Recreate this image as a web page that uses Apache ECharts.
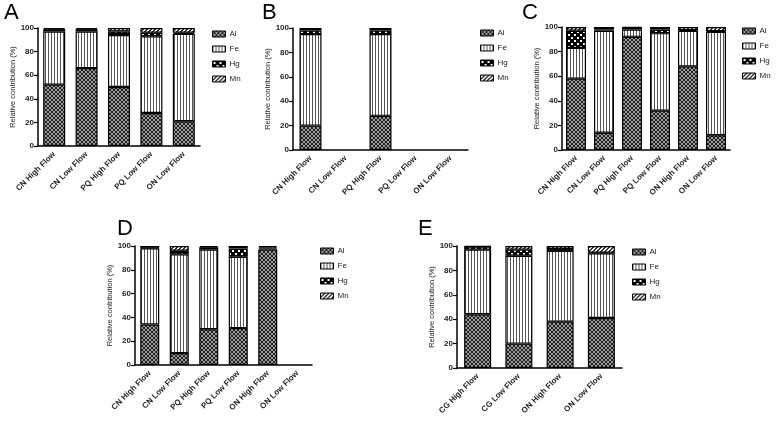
<!DOCTYPE html>
<html>
<head>
	<meta charset="utf-8">
	<title>Relative contribution</title>
	<script src="https://cdn.jsdelivr.net/npm/echarts@6/dist/echarts.min.js"></script>
	<style>
		html, body { margin: 0; padding: 0; background: #fff; }
		#chart { width: 776px; height: 425px; }
	</style>
</head>
<body>
<div id="chart"></div>
<script>
	var metals = ['Al', 'Fe', 'Hg', 'Mn'];

	// panel A
	var catA = ['CN High Flow', 'CN Low Flow', 'PQ High Flow', 'PQ Low Flow', 'ON Low Flow'];
	var alA = [52, 66, 50, 28, 21];
	var feA = [45, 31, 44, 65, 74];
	var hgA = [2, 2, 3, 3, 1];
	var mnA = [1, 1, 3, 4, 4];

	// panel B
	var catB = ['CN High Flow', 'CN Low Flow', 'PQ High Flow', 'PQ Low Flow', 'ON Low Flow'];
	var alB = [20, 0, 28, 0, 0];
	var feB = [75, 0, 67, 0, 0];
	var hgB = [3, 0, 3, 0, 0];
	var mnB = [2, 0, 2, 0, 0];

	// panel C
	var catC = ['CN High Flow', 'CN Low Flow', 'PQ High Flow', 'PQ Low Flow', 'ON High Flow', 'ON Low Flow'];
	var alC = [58, 14, 92, 32, 68, 12];
	var feC = [25, 83, 6, 63, 29, 84];
	var hgC = [14, 1, 1.5, 3, 0.5, 0.5];
	var mnC = [3, 2, 0.5, 2, 2.5, 3.5];

	// panel D
	var catD = ['CN High Flow', 'CN Low Flow', 'PQ High Flow', 'PQ Low Flow', 'ON High Flow', 'ON Low Flow'];
	var alD = [34, 10, 30, 31, 97, 0];
	var feD = [64, 83, 67, 60, 1, 0];
	var hgD = [0.5, 3, 2, 7, 1, 0];
	var mnD = [1.5, 4, 1, 2, 1, 0];

	// panel E
	var catE = ['CG High Flow', 'CG Low Flow', 'ON High Flow', 'ON Low Flow'];
	var alE = [44, 20, 38, 41];
	var feE = [53, 72, 58, 53];
	var hgE = [2.5, 5, 1.5, 0.5];
	var mnE = [0.5, 3, 2.5, 5.5];

	function pattern(w, h, draw) {
		var c = document.createElement('canvas');
		c.width = w; c.height = h;
		var ctx = c.getContext('2d');
		draw(ctx);
		return { image: c, repeat: 'repeat' };
	}

	var fills = {
		Al: pattern(4, 4, function (ctx) {
			ctx.fillStyle = '#9a9a9a'; ctx.fillRect(0, 0, 4, 4);
			ctx.fillStyle = '#222';
			for (var i = 0; i < 4; i++) { ctx.fillRect(i, i, 1, 1); ctx.fillRect(3 - i, i, 1, 1); }
		}),
		Fe: pattern(3, 1, function (ctx) {
			ctx.fillStyle = '#fff'; ctx.fillRect(0, 0, 3, 1);
			ctx.fillStyle = '#555'; ctx.fillRect(0, 0, 1, 1);
		}),
		Hg: pattern(6, 6, function (ctx) {
			ctx.fillStyle = '#000'; ctx.fillRect(0, 0, 6, 6);
			ctx.fillStyle = '#fff'; ctx.fillRect(1, 1, 2, 2); ctx.fillRect(4, 4, 2, 2);
		}),
		Mn: pattern(4, 4, function (ctx) {
			ctx.fillStyle = '#fff'; ctx.fillRect(0, 0, 4, 4);
			ctx.fillStyle = '#333';
			for (var i = 0; i < 4; i++) { ctx.fillRect(3 - i, i, 1, 1); ctx.fillRect((4 - i) % 4, i, 1, 1); }
		})
	};

	var panels = [
		{ key: 'A', cats: catA, vals: [alA, feA, hgA, mnA], grid: [38, 28, 162, 118], bw: 22, legend: [212, 30], letter: [4, 2] },
		{ key: 'B', cats: catB, vals: [alB, feB, hgB, mnB], grid: [293, 28, 175, 122], bw: 22, legend: [480, 29], letter: [262, 2] },
		{ key: 'C', cats: catC, vals: [alC, feC, hgC, mnC], grid: [562, 27, 168, 123], bw: 20, legend: [742, 27], letter: [522, 2] },
		{ key: 'D', cats: catD, vals: [alD, feD, hgD, mnD], grid: [135, 246, 177, 119], bw: 19, legend: [320, 247], letter: [117, 218] },
		{ key: 'E', cats: catE, vals: [alE, feE, hgE, mnE], grid: [457, 246, 165, 122], bw: 27, legend: [632, 248], letter: [418, 218] }
	];

	var textColor = '#222';
	var option = {
		animation: false,
		backgroundColor: '#fff',
		textStyle: { fontFamily: 'Liberation Sans, Arial, sans-serif' },
		title: [], grid: [], xAxis: [], yAxis: [], legend: [], series: []
	};

	panels.forEach(function (p, i) {
		option.title.push({
			text: p.key, left: p.letter[0], top: p.letter[1], padding: 0,
			textStyle: { fontSize: 22, fontWeight: 'normal', color: '#000', fontFamily: 'Liberation Sans, Arial, sans-serif' }
		});
		option.grid.push({ left: p.grid[0], top: p.grid[1], width: p.grid[2], height: p.grid[3] });
		option.xAxis.push({
			type: 'category', gridIndex: i, data: p.cats,
			axisLine: { lineStyle: { color: '#000', width: 1.5 } },
			axisTick: { alignWithLabel: true, length: 4, lineStyle: { color: '#000', width: 1.2 } },
			axisLabel: { rotate: 45, fontSize: 8, fontWeight: 'bold', color: textColor, margin: 7, interval: 0 }
		});
		option.yAxis.push({
			type: 'value', gridIndex: i, min: 0, max: 100, interval: 20,
			name: 'Relative contribution (%)', nameLocation: 'middle', nameGap: 21,
			nameTextStyle: { fontSize: 7.5, color: textColor },
			splitLine: { show: false },
			axisLine: { show: true, lineStyle: { color: '#000', width: 1.5 } },
			axisTick: { show: true, length: 4, lineStyle: { color: '#000', width: 1.2 } },
			axisLabel: { fontSize: 8, fontWeight: 'bold', color: textColor, margin: 4 }
		});
		option.legend.push({
			orient: 'vertical', left: p.legend[0], top: p.legend[1], padding: 0,
			itemWidth: 13, itemHeight: 6, itemGap: 7,
			data: metals.map(function (m) { return { name: m, itemStyle: { color: fills[m], borderColor: '#000', borderWidth: 1 } }; }),
			textStyle: { fontSize: 8, color: textColor, padding: [0, 0, 0, -1] },
			icon: 'rect'
		});
		metals.forEach(function (m, j) {
			option.series.push({
				name: m, type: 'bar', stack: 'p' + p.key,
				xAxisIndex: i, yAxisIndex: i,
				barWidth: p.bw,
				// empty samples are not drawn (no zero-height outline)
				data: p.vals[j].map(function (v) { return v === 0 ? '-' : v; }),
				itemStyle: { color: fills[m], borderColor: '#000', borderWidth: 1.2 }
			});
		});
	});

	var chart = echarts.init(document.getElementById('chart'), null, { renderer: 'canvas' });
	chart.setOption(option);
</script>
</body>
</html>
